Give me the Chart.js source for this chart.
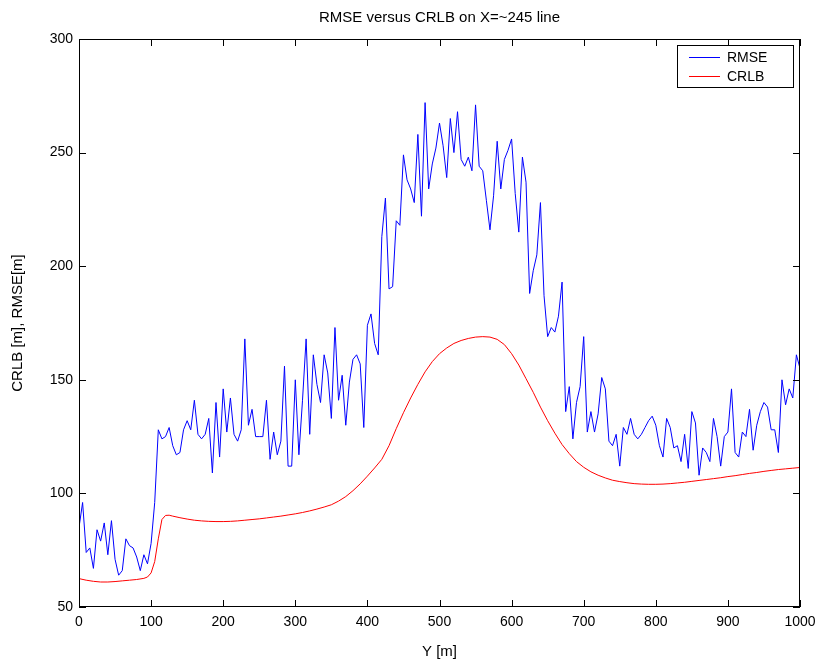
<!DOCTYPE html>
<html>
<head>
<meta charset="utf-8">
<script src="https://cdn.jsdelivr.net/npm/chart.js@4/dist/chart.umd.min.js"></script>
<style>
  html, body { margin: 0; padding: 0; background: #fff; }
  #wrap { width: 820px; height: 664px; }
</style>
</head>
<body>
<div id="wrap"><canvas id="chart" width="820" height="664"></canvas></div>
<script>
// sample positions along the line (Y [m])
const rmsePos = [
  0, 5, 10, 15, 20, 25, 30, 35, 40, 45, 50, 55, 60, 65, 70, 75, 80, 85, 90, 95, 100,
  105, 110, 115, 120, 125, 130, 135, 140, 145, 150, 155, 160, 165, 170, 175, 180, 185, 190, 195, 200,
  205, 210, 215, 220, 225, 230, 235, 240, 245, 250, 255, 260, 265, 270, 275, 280, 285, 290, 295, 300,
  305, 310, 315, 320, 325, 330, 335, 340, 345, 350, 355, 360, 365, 370, 375, 380, 385, 390, 395, 400,
  405, 410, 415, 420, 425, 430, 435, 440, 445, 450, 455, 460, 465, 470, 475, 480, 485, 490, 495, 500,
  505, 510, 515, 520, 525, 530, 535, 540, 545, 550, 555, 560, 565, 570, 575, 580, 585, 590, 595, 600,
  605, 610, 615, 620, 625, 630, 635, 640, 645, 650, 655, 660, 665, 670, 675, 680, 685, 690, 695, 700,
  705, 710, 715, 720, 725, 730, 735, 740, 745, 750, 755, 760, 765, 770, 775, 780, 785, 790, 795, 800,
  805, 810, 815, 820, 825, 830, 835, 840, 845, 850, 855, 860, 865, 870, 875, 880, 885, 890, 895, 900,
  905, 910, 915, 920, 925, 930, 935, 940, 945, 950, 955, 960, 965, 970, 975, 980, 985, 990, 995, 1000
];
const rmseVals = [
  85, 96, 74, 76, 67, 84, 79, 87, 73, 88, 71, 64, 66, 80, 77, 76, 72, 66, 73, 69, 78,
  96, 128, 124, 125, 129, 121, 117, 118, 128, 132, 128, 141, 126, 124, 126, 133, 109, 140, 116, 146,
  127, 142, 126, 123, 128, 168, 130, 137, 125, 125, 125, 141, 115, 127, 117, 123, 156, 112, 112, 150,
  117, 141, 168, 126, 161, 148, 140, 161, 153, 133, 173, 141, 152, 130, 149, 159, 161, 157, 129, 174,
  179, 166, 161, 213, 230, 190, 191, 220, 218, 249, 238, 234, 228, 258, 222, 272, 234, 245, 252, 263,
  253, 239, 265, 250, 268, 247, 244, 248, 242, 271, 244, 242, 229, 216, 231, 255, 234, 247, 251, 256,
  232, 215, 248, 237, 188, 198, 205, 228, 187, 169, 173, 171, 178, 193, 136, 147, 124, 140, 147, 169,
  127, 136, 127, 135, 151, 146, 123, 121, 126, 112, 129, 126, 133, 126, 124, 126, 129, 132, 134, 130,
  121, 116, 133, 129, 120, 121, 114, 126, 111, 136, 131, 108, 120, 118, 114, 133, 125, 112, 125, 127,
  146, 118, 116, 127, 125, 137, 119, 130, 136, 140, 138, 128, 128, 118, 150, 139, 146, 142, 161, 155
];

const crlbPos = [
  0, 10, 20, 30, 40, 50, 60, 70, 80, 90, 95, 100, 105, 110, 115, 120, 125, 130, 140, 150,
  160, 170, 180, 190, 200, 210, 220, 230, 240, 250, 260, 270, 280, 290, 300,
  310, 320, 330, 340, 350, 360, 370, 380, 390, 400, 410, 420, 430, 440, 450,
  460, 470, 480, 490, 500, 510, 520, 530, 540, 550, 560, 570, 580, 590, 600,
  610, 620, 630, 640, 650, 660, 670, 680, 690, 700, 710, 720, 730, 740, 750,
  760, 770, 780, 790, 800, 810, 820, 830, 840, 850, 860, 870, 880, 890, 900,
  910, 920, 930, 940, 950, 960, 970, 980, 990, 1000
];
const crlbVals = [
  62.5, 61.8, 61.3, 61.0, 61.0, 61.2, 61.5, 61.8, 62.1, 62.6, 63.2, 65, 70, 80, 88.5, 90.3, 90.4, 90.0, 89.3, 88.7,
  88.2, 87.9, 87.7, 87.6, 87.6, 87.7, 87.9, 88.2, 88.5, 88.8, 89.2, 89.6, 90.0, 90.5, 91.0,
  91.6, 92.3, 93.1, 94.0, 95.0, 96.6, 98.6, 101.2, 104.2, 107.6, 111.2, 115, 121, 128.5, 135.5,
  142, 148, 153.5, 158, 161.5, 164, 166, 167.3, 168.2, 168.8, 169, 168.8, 167.8, 165.5, 161.5,
  156.5, 150.5, 144.5, 138, 132, 126.5, 121.5, 117.5, 114, 111.5, 109.5, 108, 106.8, 105.8, 105.2,
  104.7, 104.3, 104.1, 104, 104, 104.1, 104.3, 104.6, 104.9, 105.3, 105.7, 106.1, 106.5, 106.9, 107.4,
  107.8, 108.3, 108.8, 109.2, 109.7, 110.1, 110.5, 110.8, 111.1, 111.4
];

const xTicks = [0, 100, 200, 300, 400, 500, 600, 700, 800, 900, 1000];
const yTicks = [50, 100, 150, 200, 250, 300];
const chartTitle = 'RMSE versus CRLB on X=~245 line';

const FONT = "'Liberation Sans', Arial, Helvetica, sans-serif";

const toPoints = (xs, ys) => xs.map((v, i) => ({ x: v, y: ys[i] }));

// matlab style box: frame, inward ticks, title over the axes and a boxed legend
const matlabBox = {
  id: 'matlabBox',
  afterDatasetsDraw(chart) {
    const { ctx, chartArea: a, scales: { x, y } } = chart;
    ctx.save();
    ctx.strokeStyle = '#000';
    ctx.lineWidth = 1;
    ctx.strokeRect(a.left + 0.5, a.top + 0.5, a.right - a.left - 1, a.bottom - a.top - 1);
    ctx.beginPath();
    xTicks.forEach(v => {
      const px = Math.round(x.getPixelForValue(v)) + 0.5;
      ctx.moveTo(px, a.bottom); ctx.lineTo(px, a.bottom - 7);
      ctx.moveTo(px, a.top); ctx.lineTo(px, a.top + 7);
    });
    yTicks.forEach(v => {
      const py = Math.round(y.getPixelForValue(v)) + 0.5;
      ctx.moveTo(a.left, py); ctx.lineTo(a.left + 7, py);
      ctx.moveTo(a.right, py); ctx.lineTo(a.right - 7, py);
    });
    ctx.stroke();

    // title, centred on the axes
    ctx.fillStyle = '#000';
    ctx.font = '15px ' + FONT;
    ctx.textAlign = 'center';
    ctx.textBaseline = 'middle';
    ctx.fillText(chartTitle, (a.left + a.right) / 2, 18);

    // legend
    const w = 116, h = 42;
    const lx = a.right - 7 - w, ly = a.top + 6;
    ctx.fillStyle = '#fff';
    ctx.fillRect(lx, ly, w, h);
    ctx.strokeRect(lx + 0.5, ly + 0.5, w, h);
    ctx.font = '14px ' + FONT;
    ctx.textAlign = 'left';
    chart.data.datasets.forEach((ds, i) => {
      const yy = ly + 12 + i * 19 + 0.5;
      ctx.strokeStyle = ds.borderColor;
      ctx.beginPath();
      ctx.moveTo(lx + 12, yy); ctx.lineTo(lx + 43, yy);
      ctx.stroke();
      ctx.fillStyle = '#000';
      ctx.fillText(ds.label, lx + 50, yy + 1);
    });
    ctx.restore();
  }
};

new Chart(document.getElementById('chart'), {
  type: 'line',
  data: {
    datasets: [
      {
        label: 'RMSE',
        data: toPoints(rmsePos, rmseVals),
        borderColor: '#0000ff',
        borderWidth: 1,
        pointRadius: 0,
        tension: 0
      },
      {
        label: 'CRLB',
        data: toPoints(crlbPos, crlbVals),
        borderColor: '#ff0000',
        borderWidth: 1,
        pointRadius: 0,
        tension: 0
      }
    ]
  },
  options: {
    responsive: false,
    animation: false,
    layout: { padding: { left: 0, right: 20, top: 39, bottom: 0 } },
    plugins: {
      legend: { display: false },
      tooltip: { enabled: false },
      title: { display: false }
    },
    scales: {
      x: {
        type: 'linear',
        min: 0,
        max: 1000,
        afterFit: s => { s.height = 57; s.paddingLeft = 0; s.paddingRight = 0; },
        afterBuildTicks: s => { s.ticks = xTicks.map(v => ({ value: v })); },
        grid: { display: false, drawTicks: false },
        border: { display: false },
        ticks: {
          color: '#000',
          font: { family: FONT, size: 14 },
          padding: 7,
          maxRotation: 0,
          callback: v => String(v)
        },
        title: {
          display: true,
          text: 'Y [m]',
          color: '#000',
          font: { family: FONT, size: 15 },
          padding: { top: 4, bottom: 3 }
        }
      },
      y: {
        min: 50,
        max: 300,
        afterFit: s => { s.width = 79; s.paddingTop = 0; s.paddingBottom = 0; },
        afterBuildTicks: s => { s.ticks = yTicks.map(v => ({ value: v })); },
        grid: { display: false, drawTicks: false },
        border: { display: false },
        ticks: { color: '#000', font: { family: FONT, size: 14 }, padding: 6 },
        title: {
          display: true,
          text: 'CRLB [m], RMSE[m]',
          color: '#000',
          font: { family: FONT, size: 15 },
          padding: { top: 9, bottom: 4 }
        }
      }
    }
  },
  plugins: [matlabBox]
});
</script>
</body>
</html>
